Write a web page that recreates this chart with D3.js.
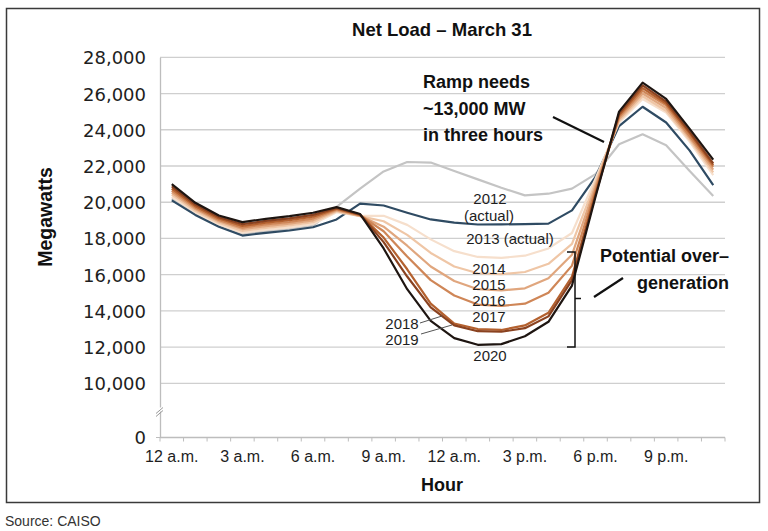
<!DOCTYPE html>
<html><head><meta charset="utf-8">
<script src="https://cdn.jsdelivr.net/npm/d3@7/dist/d3.min.js"></script>
<style>body{margin:0;background:#fff}</style>
</head><body>
<svg id="c" width="768" height="531"></svg>
<script>
// ---- data ----
const hours = [0,1,2,3,4,5,6,7,8,9,10,11,12,13,14,15,16,17,18,19,20,21,22,23];
const xTickHours = [0,3,6,9,12,15,18,21];
const xTickLabels = ["12 a.m.","3 a.m.","6 a.m.","9 a.m.","12 a.m.","3 p.m.","6 p.m.","9 p.m."];
const yTicks = [0,10000,12000,14000,16000,18000,20000,22000,24000,26000,28000];
const years = ["2012","2013","2014","2015","2016","2017","2018","2019","2020"];
const load2012 = [20200,19370,18710,18230,18390,18520,18700,19750,20750,21700,22220,22190,21720,21260,20800,20380,20470,20750,21550,23200,23750,23150,21720,20350];
const load2013 = [20100,19300,18650,18160,18310,18440,18620,19050,19920,19820,19420,19050,18870,18770,18780,18790,18820,19550,21400,24200,25270,24400,22850,20950];
const load2014 = [20300,19450,18790,18320,18480,18610,18800,19450,19250,19250,18750,17950,17300,16980,16930,17050,17450,18300,21300,24400,25700,24950,23350,21500];
const load2015 = [20420,19530,18870,18420,18580,18720,18900,19500,19230,18950,18200,17200,16450,16080,16030,16150,16600,17700,21100,24500,25850,25050,23450,21650];
const load2016 = [20530,19620,18950,18520,18680,18820,19000,19550,19250,18650,17600,16450,15650,15200,15130,15250,15800,17100,20900,24600,26000,25200,23550,21800];
const load2017 = [20640,19700,19020,18600,18780,18910,19100,19600,19280,18400,17000,15700,14850,14350,14280,14400,15000,16500,20700,24700,26150,25350,23650,21950];
const load2018 = [20750,19780,19100,18690,18870,19010,19200,19640,19300,18050,16300,14400,13300,13000,12950,13200,13900,15900,20500,24800,26300,25450,23800,22050];
const load2019 = [20870,19870,19180,18790,18970,19110,19300,19690,19320,17800,15900,14200,13200,12880,12850,13050,13700,15700,20400,24900,26450,25550,23900,22150];
const load2020 = [21000,19970,19270,18900,19085,19230,19420,19730,19350,17450,15200,13450,12500,12130,12170,12600,13400,15400,20300,25000,26600,25700,24050,22350];
const seriesValues = [load2012,load2013,load2014,load2015,load2016,load2017,load2018,load2019,load2020];
const seriesColors = ["#c4c4c4","#2f4b63","#f6dfcc","#efc6a6","#e0a67e","#cf8657","#b4612f","#8a4220","#1e1511"];

// ---- layout ----
const svg = d3.select("#c");
const L = 160, R = 725;
const x = d3.scaleBand().domain(hours).range([L, R]);
const xc = h => x(h) + x.bandwidth()/2;
const y = d3.scaleLinear().domain([0, 10000, 28000]).range([437.5, 383.4, 57.3]);
const sans = "'Liberation Sans', Arial, sans-serif";

// frame
svg.append("rect").attr("x",6.5).attr("y",8.5).attr("width",753).attr("height",494)
  .attr("fill","none").attr("stroke","#3a3a3a").attr("stroke-width",1.5);

// gridlines
svg.append("g").selectAll("line").data(yTicks.filter(d => d > 0)).join("line")
  .attr("x1", L).attr("x2", R).attr("y1", d => y(d)).attr("y2", d => y(d))
  .attr("stroke", "#cfcfcf").attr("stroke-width", 1.3);

// y axis
const yAxis = d3.axisLeft(y).tickValues(yTicks).tickSize(0).tickPadding(14)
  .tickFormat(d3.format(","));
const gy = svg.append("g").attr("transform", `translate(${L},0)`).call(yAxis);
gy.select(".domain").attr("stroke", "#bdbdbd").attr("stroke-width", 1.3);
gy.selectAll("text").attr("font-family", "'DejaVu Sans', sans-serif")
  .attr("font-size", 18).attr("fill", "#1e1e1e").attr("dy", "0.36em");
gy.append("line").attr("x1",-4).attr("x2",0).attr("y1",y(0)).attr("y2",y(0)).attr("stroke","#bdbdbd");
// axis break
gy.append("rect").attr("x",-4).attr("y",y(0)-30).attr("width",8).attr("height",4).attr("fill","#fff");
gy.append("line").attr("x1",-4).attr("x2",3).attr("y1",y(0)-24).attr("y2",y(0)-30).attr("stroke","#9a9a9a").attr("stroke-width",1);
gy.append("line").attr("x1",-4).attr("x2",3).attr("y1",y(0)-21).attr("y2",y(0)-27).attr("stroke","#9a9a9a").attr("stroke-width",1);

// x axis
const gx = svg.append("g").attr("transform", `translate(0,${y(0)})`);
gx.append("line").attr("x1", L).attr("x2", R).attr("stroke", "#bdbdbd").attr("stroke-width", 1.3);
gx.selectAll("line.tk").data(hours.concat([24])).join("line").attr("class","tk")
  .attr("x1", h => L + h * x.step()).attr("x2", h => L + h * x.step())
  .attr("y1", 0).attr("y2", 4).attr("stroke", "#bdbdbd");
gx.selectAll("text").data(xTickHours).join("text")
  .attr("x", h => xc(h)).attr("y", 24).attr("text-anchor", "middle")
  .attr("font-family", sans).attr("font-size", 16).attr("fill", "#1e1e1e")
  .text((h, i) => xTickLabels[i]);

// lines
const line = d3.line().x((d, i) => xc(hours[i])).y(d => y(d));
svg.append("g").selectAll("path").data(seriesValues).join("path")
  .attr("d", d => line(d)).attr("fill", "none")
  .attr("stroke", (d, i) => seriesColors[i]).attr("stroke-width", 2.2)
  .attr("stroke-linejoin", "round");

// titles
svg.append("text").attr("x", 442).attr("y", 36).attr("text-anchor", "middle")
  .attr("font-family", sans).attr("font-weight", "bold").attr("font-size", 18.5)
  .attr("fill", "#111").text("Net Load – March 31");
svg.append("text").attr("transform", "translate(52,217) rotate(-90)").attr("text-anchor", "middle")
  .attr("font-family", sans).attr("font-weight", "bold").attr("font-size", 19.5)
  .attr("fill", "#111").text("Megawatts");
svg.append("text").attr("x", 442).attr("y", 491).attr("text-anchor", "middle")
  .attr("font-family", sans).attr("font-weight", "bold").attr("font-size", 18)
  .attr("fill", "#111").text("Hour");
svg.append("text").attr("x", 5).attr("y", 526)
  .attr("font-family", sans).attr("font-size", 14).attr("fill", "#333").text("Source: CAISO");

// year labels
const lab = (t, xx, yy, anchor) => svg.append("text").attr("x", xx).attr("y", yy)
  .attr("text-anchor", anchor || "middle").attr("font-family", sans).attr("font-size", 15)
  .attr("fill", "#1e1e1e").text(t);
lab("2012", 490, 203.5);
lab("(actual)", 489, 221);
lab("2013 (actual)", 510, 244);
lab("2014", 489, 274);
lab("2015", 489, 290);
lab("2016", 489, 306);
lab("2017", 489, 322);
lab("2018", 402, 329);
lab("2019", 402, 345);
lab("2020", 490, 361);
svg.append("line").attr("x1",420).attr("y1",323).attr("x2",442).attr("y2",316).attr("stroke","#555").attr("stroke-width",1);
svg.append("line").attr("x1",421).attr("y1",334).attr("x2",452).attr("y2",325).attr("stroke","#555").attr("stroke-width",1);

// annotations
const ann = (t, xx, yy, anchor) => svg.append("text").attr("x", xx).attr("y", yy)
  .attr("text-anchor", anchor || "start").attr("font-family", sans).attr("font-weight", "bold")
  .attr("font-size", 18).attr("fill", "#111").text(t);
ann("Ramp needs", 423, 88);
ann("~13,000 MW", 423, 115);
ann("in three hours", 423, 141);
ann("Potential over–", 729, 262, "end");
ann("generation", 729, 289, "end");
svg.append("line").attr("x1",553).attr("y1",117).attr("x2",604).attr("y2",142).attr("stroke","#111").attr("stroke-width",2.2);
svg.append("line").attr("x1",594).attr("y1",297).attr("x2",623).attr("y2",278).attr("stroke","#111").attr("stroke-width",2.2);
// bracket
svg.append("path").attr("d","M567,252 H575 V347 H567 M575,298.5 H581")
  .attr("fill","none").attr("stroke","#111").attr("stroke-width",1.5);
</script>
</body></html>
